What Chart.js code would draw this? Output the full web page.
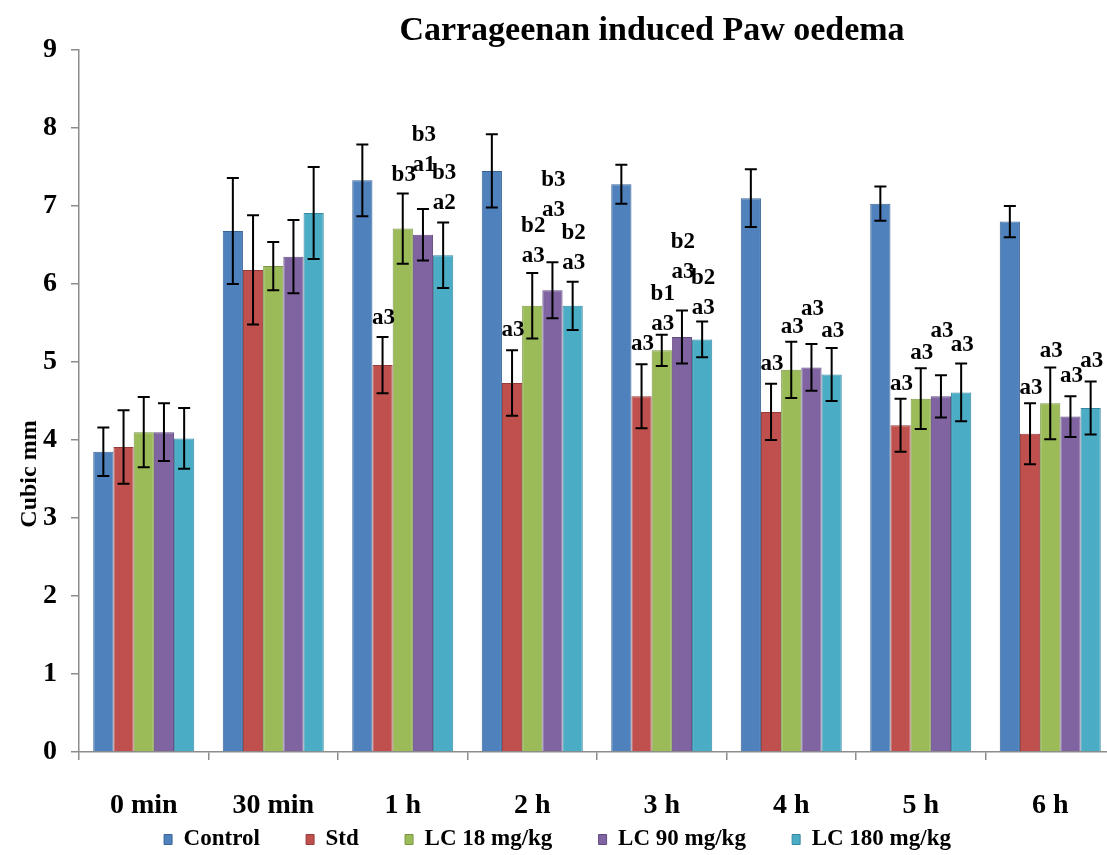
<!DOCTYPE html>
<html>
<head>
<meta charset="utf-8">
<script src="https://cdn.jsdelivr.net/npm/chart.js@4.4.0/dist/chart.umd.min.js"></script>
<style>
	html, body { margin: 0; padding: 0; background: #fff; overflow: hidden; }
	#wrap { width: 1116px; height: 855px; position: relative; }
</style>
</head>
<body>
<div id="wrap"><canvas id="chart"></canvas></div>
<script>
const timePoints = ["0 min", "30 min", "1 h", "2 h", "3 h", "4 h", "5 h", "6 h"];
const yTicks = [0, 1, 2, 3, 4, 5, 6, 7, 8, 9];

const control = [3.85, 6.68, 7.33, 7.45, 7.28, 7.10, 7.03, 6.80];
const controlErr = [0.31, 0.68, 0.46, 0.47, 0.25, 0.37, 0.22, 0.20];
const std = [3.91, 6.18, 4.96, 4.73, 4.56, 4.36, 4.19, 4.08];
const stdErr = [0.47, 0.70, 0.36, 0.42, 0.41, 0.36, 0.34, 0.39];
const lc18 = [4.10, 6.23, 6.71, 5.72, 5.15, 4.90, 4.53, 4.47];
const lc18Err = [0.45, 0.31, 0.45, 0.42, 0.20, 0.36, 0.39, 0.46];
const lc90 = [4.10, 6.35, 6.63, 5.92, 5.32, 4.93, 4.56, 4.30];
const lc90Err = [0.37, 0.47, 0.33, 0.36, 0.34, 0.30, 0.27, 0.26];
const lc180 = [4.02, 6.91, 6.37, 5.72, 5.29, 4.84, 4.61, 4.41];
const lc180Err = [0.39, 0.59, 0.42, 0.31, 0.23, 0.34, 0.37, 0.34];

// significance letters above each bar ("\n" = stacked)
const controlSig = ["", "", "", "", "", "", "", ""];
const stdSig = ["", "", "a3", "a3", "a3", "a3", "a3", "a3"];
const lc18Sig = ["", "", "b3", "b2\na3", "b1\na3", "a3", "a3", "a3"];
const lc90Sig = ["", "", "b3\na1", "b3\na3", "b2\na3", "a3", "a3", "a3"];
const lc180Sig = ["", "", "b3\na2", "b2\na3", "b2\na3", "a3", "a3", "a3"];

const serif = "'Liberation Serif', 'Times New Roman', serif";

// how far the letters sit above the error cap (px), per series
const sigGap = {
	"Std": [19, 19, 19, 20, 20, 20, 15, 15],
	"LC 18 mg/kg": [16, 16, 18, 17, 11, 15, 15, 16],
	"LC 90 mg/kg": [40, 40, 44, 52, 38, 35, 44, 20],
	"LC 180 mg/kg": [18, 18, 19, 19, 13, 17, 18, 20],
};

function makeSet(label, values, err, sig, fill, edge) {
	return {
		label: label,
		data: values,
		err: err,
		sig: sig,
		backgroundColor: fill,
		borderColor: edge,
		borderWidth: 1,
		categoryPercentage: 0.78,
		barPercentage: 1.0,
	};
}

const errorBars = {
	id: "errorBars",
	afterDatasetsDraw(chart) {
		const ctx = chart.ctx;
		const y = chart.scales.y;
		chart.data.datasets.forEach((ds, i) => {
			const meta = chart.getDatasetMeta(i);
			meta.data.forEach((bar, j) => {
				const v = ds.data[j];
				const e = ds.err[j];
				const top = y.getPixelForValue(v + e);
				const bot = y.getPixelForValue(v - e);
				ctx.save();
				ctx.strokeStyle = "#000";
				ctx.lineWidth = 2;
				ctx.beginPath();
				ctx.moveTo(bar.x, top);
				ctx.lineTo(bar.x, bot);
				ctx.moveTo(bar.x - 6, top);
				ctx.lineTo(bar.x + 6, top);
				ctx.moveTo(bar.x - 6, bot);
				ctx.lineTo(bar.x + 6, bot);
				ctx.stroke();
				// letters
				const lines = ds.sig[j] ? ds.sig[j].split("\n") : [];
				const gap = sigGap[ds.label] ? sigGap[ds.label][j] : 18;
				ctx.fillStyle = "#000";
				ctx.font = "bold 23px " + serif;
				ctx.textAlign = "center";
				ctx.textBaseline = "middle";
				for (let k = 0; k < lines.length; k++) {
					const fromBottom = lines.length - 1 - k;
					ctx.fillText(lines[k], bar.x + 1, top - gap - fromBottom * 30);
				}
				ctx.restore();
			});
		});
	},
};

const extraText = {
	id: "extraText",
	afterDraw(chart) {
		const ctx = chart.ctx;
		ctx.save();
		ctx.fillStyle = "#000";
		ctx.textAlign = "center";
		ctx.textBaseline = "middle";
		ctx.font = "bold 34px " + serif;
		ctx.fillText("Carrageenan induced Paw oedema", 652, 31);
		ctx.translate(30, 474);
		ctx.rotate(-Math.PI / 2);
		ctx.font = "bold 24px " + serif;
		ctx.fillText("Cubic mm", 0, 0);
		ctx.restore();
	},
};

let data = {
	labels: timePoints,
	datasets: [
		makeSet("Control", control, controlErr, controlSig, "#4F81BD", "#3A6595"),
		makeSet("Std", std, stdErr, stdSig, "#C0504D", "#963C3A"),
		makeSet("LC 18 mg/kg", lc18, lc18Err, lc18Sig, "#9BBB59", "#7A9643"),
		makeSet("LC 90 mg/kg", lc90, lc90Err, lc90Sig, "#8064A2", "#624B80"),
		makeSet("LC 180 mg/kg", lc180, lc180Err, lc180Sig, "#4BACC6", "#35889F"),
	],
};

let config = {
	type: "bar",
	data: data,
	plugins: [errorBars, extraText],
	options: {
		responsive: true,
		maintainAspectRatio: false,
		animation: false,
		layout: {
			padding: { top: 50, left: 0, right: 1, bottom: 0 },
		},
		plugins: {
			tooltip: { enabled: false },
			legend: {
				position: "bottom",
				maxHeight: 33,
				labels: {
					color: "#000",
					boxWidth: 8,
					boxHeight: 10,
					padding: 6,
					font: { family: serif, size: 23, weight: "bold" },
					generateLabels(chart) {
						const items = Chart.defaults.plugins.legend.labels.generateLabels(chart);
						// wide gaps between legend entries, as in the original
						items.forEach((it, idx) => {
							if (idx < items.length - 1) it.text = it.text + "\u00A0".repeat(7);
						});
						return items;
					},
				},
			},
		},
		scales: {
			x: {
				afterFit(scale) {
					scale.height = 70;
				},
				grid: {
					offset: true,
					drawOnChartArea: false,
					drawTicks: true,
					tickLength: 8,
					color: "#8c8c8c",
					lineWidth: 1.5,
				},
				border: { color: "#8c8c8c", width: 1.5 },
				ticks: {
					color: "#000",
					padding: 29,
					maxRotation: 0,
					font: { family: serif, size: 28, weight: "bold" },
				},
			},
			y: {
				min: 0,
				max: 9,
				afterFit(scale) {
					scale.width = 79;
				},
				afterBuildTicks(scale) {
					scale.ticks = yTicks.map((v) => ({ value: v }));
				},
				grid: {
					drawOnChartArea: false,
					drawTicks: true,
					tickLength: 8,
					color: "#8c8c8c",
					lineWidth: 1.5,
				},
				border: { color: "#8c8c8c", width: 1.5 },
				ticks: {
					color: "#000",
					padding: 14,
					font: { family: serif, size: 28, weight: "bold" },
				},
			},
		},
	},
};

const chart = new Chart(document.getElementById("chart"), config);
</script>
</body>
</html>
